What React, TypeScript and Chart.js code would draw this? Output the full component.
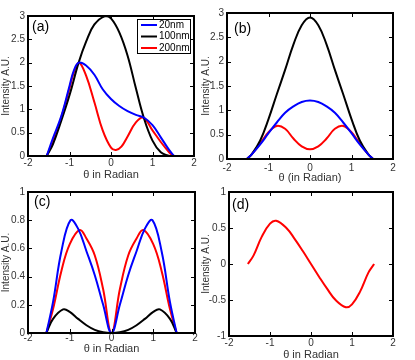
import React, { useEffect, useRef } from "react";
import { Chart, registerables } from "chart.js";

Chart.register(...registerables);

const FONT = 'Arial, "Liberation Sans", Helvetica, sans-serif';
const SERIES_NAMES = ["20nm", "100nm", "200nm"];
const BLUE = "#0000ff";
const BLACK = "#000000";
const RED = "#ff0000";

// ---- Panel (a)
const aBlueX = [-1.55, -1.4, -1.2, -1.0, -0.9, -0.78, -0.6, -0.4, -0.2, 0, 0.2, 0.4, 0.6, 0.8, 1.0, 1.2, 1.4, 1.52];
const aBlueY = [0, 0.38, 0.85, 1.5, 1.82, 2.0, 1.94, 1.74, 1.43, 1.22, 1.07, 0.96, 0.88, 0.82, 0.66, 0.4, 0.13, 0];
const aBlackX = [-1.55, -1.4, -1.2, -1.0, -0.78, -0.6, -0.4, -0.14, 0, 0.2, 0.4, 0.6, 0.79, 1.0, 1.2, 1.4];
const aBlackY = [0, 0.25, 0.75, 1.3, 2.0, 2.45, 2.82, 3.0, 2.95, 2.65, 2.15, 1.45, 0.82, 0.33, 0.08, 0];
const aRedX = [-1.55, -1.4, -1.2, -1.0, -0.9, -0.77, -0.6, -0.4, -0.2, 0, 0.12, 0.25, 0.4, 0.6, 0.78, 1.0, 1.2, 1.4, 1.5];
const aRedY = [0, 0.32, 0.82, 1.45, 1.78, 2.0, 1.72, 1.15, 0.55, 0.18, 0.13, 0.2, 0.42, 0.72, 0.82, 0.55, 0.3, 0.08, 0];

// ---- Panel (b)
const bX = [-1.52, -1.4, -1.2, -1.0, -0.8, -0.6, -0.4, -0.2, 0, 0.2, 0.4, 0.6, 0.8, 1.0, 1.2, 1.4, 1.52];
const bBlueY = [0, 0.1, 0.3, 0.53, 0.75, 0.95, 1.08, 1.17, 1.2, 1.17, 1.08, 0.95, 0.75, 0.53, 0.3, 0.1, 0];
const bBlackY = [0, 0.1, 0.38, 0.82, 1.33, 1.83, 2.35, 2.75, 2.91, 2.75, 2.35, 1.83, 1.33, 0.82, 0.38, 0.1, 0];
const bRedY = [0, 0.1, 0.32, 0.55, 0.68, 0.62, 0.42, 0.26, 0.2, 0.26, 0.42, 0.62, 0.68, 0.55, 0.32, 0.1, 0];

// ---- Panel (c)
const cBlueX = [-1.56, -1.4, -1.2, -0.98, -0.8, -0.6, -0.4, -0.2, 0, 0.2, 0.4, 0.6, 0.8, 0.98, 1.2, 1.4, 1.56];
const cBlueY = [0, 0.22, 0.58, 0.8, 0.74, 0.58, 0.41, 0.2, 0, 0.2, 0.41, 0.58, 0.74, 0.8, 0.58, 0.22, 0];
const cRedX = [-1.56, -1.4, -1.2, -1.0, -0.76, -0.6, -0.4, -0.2, 0, 0.2, 0.4, 0.6, 0.76, 1.0, 1.2, 1.4, 1.56];
const cRedY = [0, 0.17, 0.44, 0.63, 0.73, 0.67, 0.55, 0.31, 0, 0.31, 0.55, 0.67, 0.73, 0.63, 0.44, 0.17, 0];
const cBlackX = [-1.56, -1.4, -1.16, -1.0, -0.8, -0.6, -0.4, -0.2, 0, 0.2, 0.4, 0.6, 0.8, 1.0, 1.16, 1.4, 1.56];
const cBlackY = [0, 0.1, 0.167, 0.15, 0.1, 0.055, 0.022, 0.005, 0, 0.005, 0.022, 0.055, 0.1, 0.15, 0.167, 0.1, 0];

// ---- Panel (d)
const dX = [-1.54, -1.4, -1.2, -1.0, -0.85, -0.6, -0.4, -0.2, 0, 0.2, 0.4, 0.6, 0.85, 1.0, 1.2, 1.4, 1.54];
const dRedY = [0, 0.12, 0.38, 0.56, 0.6, 0.5, 0.35, 0.18, 0, -0.18, -0.35, -0.5, -0.6, -0.56, -0.38, -0.12, 0];

const pts = (xs: number[], ys: number[]) => xs.map((x, i) => ({ x, y: ys[i] }));
const fmt = (v: number) => String(Math.round(v * 100) / 100);

const framePlugin = {
  id: "frame",
  afterDatasetsDraw(chart: any, _args: any, opts: any) {
    const { ctx, chartArea } = chart;
    const { left, right, top, bottom } = chartArea;
    const xs = chart.scales.x;
    const ys = chart.scales.y;
    ctx.save();
    ctx.strokeStyle = "#000";
    ctx.lineWidth = 1;
    const L = 4;
    ctx.beginPath();
    xs.ticks.forEach((t: any) => {
      const p = Math.round(xs.getPixelForValue(t.value)) + 0.5;
      ctx.moveTo(p, bottom); ctx.lineTo(p, bottom - L);
      ctx.moveTo(p, top); ctx.lineTo(p, top + L);
    });
    ys.ticks.forEach((t: any) => {
      const p = Math.round(ys.getPixelForValue(t.value)) + 0.5;
      ctx.moveTo(left, p); ctx.lineTo(left + L, p);
      ctx.moveTo(right, p); ctx.lineTo(right - L, p);
    });
    ctx.stroke();
    ctx.lineWidth = 2;
    ctx.strokeRect(left, top, right - left, bottom - top);

    ctx.fillStyle = "#000";
    ctx.font = `14px ${FONT}`;
    ctx.textBaseline = "middle";
    ctx.textAlign = "left";
    ctx.fillText(opts.label, left + opts.lx, top + opts.ly);

    if (opts.legend) {
      const bx = right - 57, by = top + 3, bw = 53, bh = 34;
      ctx.fillStyle = "#fff";
      ctx.fillRect(bx, by, bw, bh);
      ctx.lineWidth = 1;
      ctx.strokeStyle = "#000";
      ctx.strokeRect(bx + 0.5, by + 0.5, bw, bh);
      ctx.font = `10px ${FONT}`;
      chart.data.datasets.forEach((ds: any, i: number) => {
        const yy = by + 6 + i * 11.5;
        ctx.strokeStyle = ds.borderColor;
        ctx.lineWidth = 2;
        ctx.beginPath();
        ctx.moveTo(bx + 4, yy); ctx.lineTo(bx + 20, yy);
        ctx.stroke();
        ctx.fillStyle = "#000";
        ctx.fillText(ds.label, bx + 22, yy);
      });
    }
    ctx.restore();
  },
};

type PanelProps = {
  left: number; top: number; width: number; height: number;
  padTop: number; padRight: number; yW: number; xH: number;
  yMin: number; yMax: number; yStep: number;
  xTitle: string; tickPad: number;
  label: string; lx: number; ly: number; legend?: boolean;
  datasets: any[];
};

function Panel(p: PanelProps) {
  const ref = useRef<HTMLCanvasElement>(null);
  useEffect(() => {
    const tickColor = "#333";
    const chart = new Chart(ref.current as HTMLCanvasElement, {
      type: "line",
      data: { datasets: p.datasets },
      plugins: [framePlugin as any],
      options: {
        animation: false,
        responsive: false,
        devicePixelRatio: 1,
        layout: { padding: { top: p.padTop, right: p.padRight, left: 0, bottom: 0 } },
        elements: { point: { radius: 0 }, line: { borderWidth: 2, tension: 0.4 } },
        plugins: {
          legend: { display: false },
          tooltip: { enabled: false },
          frame: { label: p.label, lx: p.lx, ly: p.ly, legend: !!p.legend },
        } as any,
        scales: {
          x: {
            type: "linear",
            min: -2, max: 2,
            ticks: { stepSize: 1, padding: p.tickPad, color: tickColor, font: { size: 10, family: FONT }, callback: (v: any) => fmt(v) },
            grid: { display: false, drawTicks: false },
            border: { display: false },
            title: { display: true, text: p.xTitle, color: tickColor, font: { size: 11, family: FONT }, padding: { top: 0, bottom: 0.4 } },
            afterFit: (s: any) => { s.height = p.xH; },
          },
          y: {
            type: "linear",
            min: p.yMin, max: p.yMax,
            ticks: { stepSize: p.yStep, padding: 3, color: tickColor, font: { size: 10, family: FONT }, callback: (v: any) => fmt(v) },
            grid: { display: false, drawTicks: false },
            border: { display: false },
            title: { display: true, text: "Intensity A.U.", color: tickColor, font: { size: 10, family: FONT }, padding: { top: 0, bottom: 0 } },
            afterFit: (s: any) => { s.width = p.yW; },
          },
        },
      } as any,
    });
    return () => chart.destroy();
  }, []);
  return (
    <canvas
      ref={ref}
      width={p.width}
      height={p.height}
      style={{ position: "absolute", left: p.left, top: p.top, width: p.width, height: p.height }}
    />
  );
}

const ds = (label: string, color: string, xs: number[], ys: number[]) => ({
  label, borderColor: color, backgroundColor: color, data: pts(xs, ys), fill: false,
});

export default function App() {
  return (
    <div style={{ position: "absolute", left: 0, top: 0, width: 415, height: 360, overflow: "hidden", background: "#fff" }}>
      <Panel left={0} top={0} width={205} height={182} padTop={16} padRight={11} yW={28} xH={26}
        yMin={0} yMax={3} yStep={0.5} xTitle="θ in Radian" tickPad={1.7}
        label="(a)" lx={4} ly={11.5} legend
        datasets={[
          ds(SERIES_NAMES[0], BLUE, aBlueX, aBlueY),
          ds(SERIES_NAMES[1], BLACK, aBlackX, aBlackY),
          ds(SERIES_NAMES[2], RED, aRedX, aRedY),
        ]} />
      <Panel left={200} top={0} width={215} height={185} padTop={13} padRight={22} yW={27} xH={26}
        yMin={0} yMax={3} yStep={0.5} xTitle="θ (in Radian)" tickPad={3.5}
        label="(b)" lx={7} ly={16}
        datasets={[
          ds(SERIES_NAMES[0], BLUE, bX, bBlueY),
          ds(SERIES_NAMES[1], BLACK, bX, bBlackY),
          ds(SERIES_NAMES[2], RED, bX, bRedY),
        ]} />
      <Panel left={0} top={180} width={205} height={176} padTop={12} padRight={10} yW={28} xH={23}
        yMin={0} yMax={1} yStep={0.2} xTitle="θ in Radian" tickPad={-0.7}
        label="(c)" lx={6} ly={10}
        datasets={[
          ds(SERIES_NAMES[0], BLUE, cBlueX, cBlueY),
          ds(SERIES_NAMES[1], BLACK, cBlackX, cBlackY),
          ds(SERIES_NAMES[2], RED, cRedX, cRedY),
        ]} />
      <Panel left={200} top={180} width={215} height={182} padTop={12} padRight={22} yW={29} xH={26}
        yMin={-1} yMax={1} yStep={0.5} xTitle="θ in Radian" tickPad={1.5}
        label="(d)" lx={3} ly={13.5}
        datasets={[
          ds(SERIES_NAMES[2], RED, dX, dRedY),
        ]} />
    </div>
  );
}
